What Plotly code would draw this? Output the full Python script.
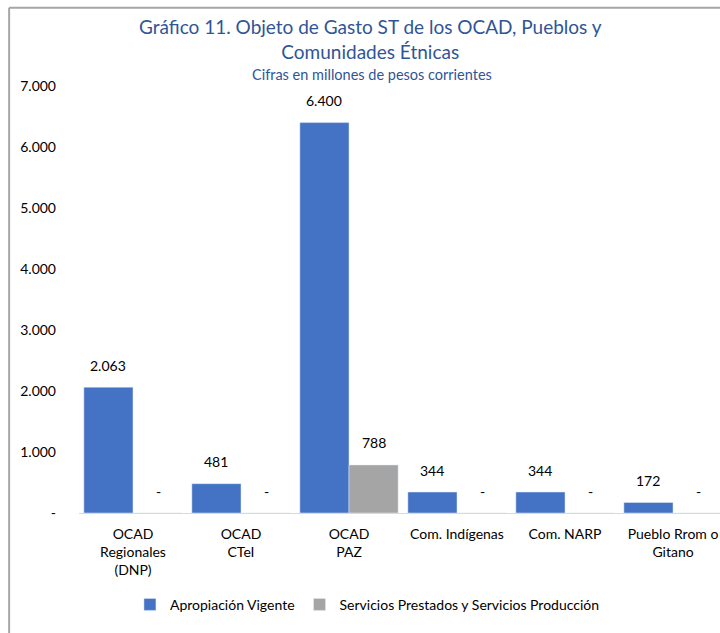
import plotly.graph_objects as go

categorias = ["OCAD<br>Regionales<br>(DNP)", "OCAD<br>CTeI", "OCAD<br>PAZ",
              "Com. Indígenas", "Com. NARP", "Pueblo Rrom o<br>Gitano"]
apropiacion = [2063, 481, 6400, 344, 344, 172]
servicios = [0, 0, 788, 0, 0, 0]
tick_vals = [0, 1000, 2000, 3000, 4000, 5000, 6000, 7000]
tick_text = ["-", "1.000", "2.000", "3.000", "4.000", "5.000", "6.000", "7.000"]

def etiqueta(v):
    return "-" if v == 0 else f"{v:,}".replace(",", ".")

fig = go.Figure()
fig.add_trace(go.Bar(name="Apropiación Vigente", x=categorias, y=apropiacion,
                     marker_color="#4472C4"))
fig.add_trace(go.Bar(name="Servicios Prestados y Servicios Producción",
                     x=categorias, y=servicios, marker_color="#A5A5A5"))

## data labels above each bar
anotaciones = []
for serie, dx in ((apropiacion, -25), (servicios, 25)):
    for c, v in zip(categorias, serie):
        anotaciones.append(dict(x=c, y=v, xref="x", yref="y", text=etiqueta(v),
                                showarrow=False, xshift=dx, yshift=22,
                                yanchor="middle",
                                font=dict(size=14, color="#000000")))

## title and subtitle
anotaciones.append(dict(xref="paper", yref="paper", x=0.455, y=1.109,
                        text="Gráfico 11. Objeto de Gasto ST de los OCAD, Pueblos y<br>Comunidades Étnicas",
                        showarrow=False, xanchor="center", yanchor="middle",
                        font=dict(size=19, color="#2F5597", family="Lato")))
anotaciones.append(dict(xref="paper", yref="paper", x=0.457, y=1.028,
                        text="Cifras en millones de pesos corrientes",
                        showarrow=False, xanchor="center", yanchor="middle",
                        font=dict(size=14.5, color="#2F5597", family="Lato")))

## chart frame (left and top edges visible)
marco = [
    dict(type="line", xref="paper", yref="paper", x0=-0.109, x1=-0.109,
         y0=-0.3, y1=1.183, line=dict(color="#A6A6A6", width=2)),
    dict(type="line", xref="paper", yref="paper", x0=-0.109, x1=1.05,
         y0=1.183, y1=1.183, line=dict(color="#A6A6A6", width=2)),
]

fig.update_layout(
    width=720, height=633,
    margin=dict(l=79, r=0, t=86, b=120),
    barmode="group", bargap=0.09, bargroupgap=0,
    plot_bgcolor="white", paper_bgcolor="white",
    font=dict(family="Lato", size=14, color="#000000"),
    annotations=anotaciones,
    showlegend=True,
    legend=dict(orientation="h", x=0.45, y=-0.215, xanchor="center",
                yanchor="middle", font=dict(size=14), traceorder="normal"),
    shapes=marco,
)
fig.update_xaxes(range=[-0.5, 5.435], showline=True, linecolor="#D9D9D9",
                 linewidth=1, ticks="", showgrid=False,
                 ticklabelstandoff=8, tickfont=dict(size=14))
fig.update_yaxes(range=[0, 7000], tickvals=tick_vals, ticktext=tick_text,
                 showgrid=False, zeroline=False, showline=False,
                 ticks="", ticklabelstandoff=22, tickfont=dict(size=14))

fig.write_html("out.html", config={"displayModeBar": False},
               post_script="document.body.style.margin='0px';")
